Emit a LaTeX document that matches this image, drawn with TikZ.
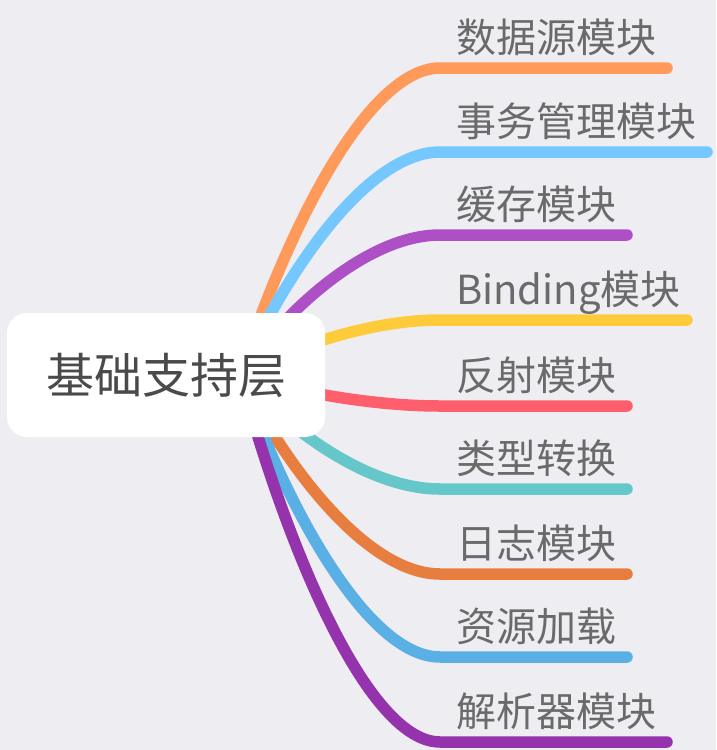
\documentclass[tikz,border=0pt]{standalone}
\usepackage{fontspec}
\setmainfont{Noto Sans CJK SC}
\usetikzlibrary{backgrounds}
\definecolor{bgc}{HTML}{EEEDF2}
\definecolor{rootc}{HTML}{4A4A4A}
\definecolor{childc}{HTML}{6A6A6A}
\definecolor{c1}{HTML}{FF9A5A}
\definecolor{c2}{HTML}{74C8FF}
\definecolor{c3}{HTML}{AD50C6}
\definecolor{c4}{HTML}{FFCB3A}
\definecolor{c5}{HTML}{FF5E6C}
\definecolor{c6}{HTML}{66C7CB}
\definecolor{c7}{HTML}{E87D40}
\definecolor{c8}{HTML}{5AAFE5}
\definecolor{c9}{HTML}{9433AC}
\tikzset{
  rootbox/.style={fill=white, rounded corners=20pt, minimum width=318pt, minimum height=124pt, inner sep=0pt, text=rootc, font=\fontsize{48}{56}\selectfont},
  childlabel/.style={anchor=base west, inner sep=0pt, text=childc, font=\fontsize{40}{48}\selectfont},
  branch/.style={line width=11.5pt, line cap=round}
}
\begin{document}
\begin{tikzpicture}[x=1pt, y=-1pt]
\useasboundingbox (0,0) rectangle (716,750);
\node[rootbox] (root) at (166,375) {基础支持层};
\coordinate (s) at (240,375);
\begin{scope}[on background layer]
\fill[bgc] (0,0) rectangle (716,750);
\foreach \yy/\ex/\col/\txt [count=\i] in {
  68/667/c1/数据源模块,
  152/707/c2/事务管理模块,
  235/627/c3/缓存模块,
  320/687/c4/Binding模块,
  406/627/c5/反射模块,
  489/627/c6/类型转换,
  574/627/c7/日志模块,
  657/627/c8/资源加载,
  742/667/c9/解析器模块}{
  \coordinate (a\i) at (440,\yy);
  \coordinate (b\i) at (\ex,\yy);
  \draw[branch, \col] (s) .. controls (290,{375+(\yy-375)/2}) and (370,\yy) .. (a\i) -- (b\i);
}
\end{scope}
\foreach \yy/\txt [count=\i] in {
  68/数据源模块,
  152/事务管理模块,
  235/缓存模块,
  320/Binding模块,
  406/反射模块,
  489/类型转换,
  574/日志模块,
  657/资源加载,
  742/解析器模块}{
  \node[childlabel] (t\i) at (456,\yy-16) {\txt};
}
\end{tikzpicture}
\end{document}
